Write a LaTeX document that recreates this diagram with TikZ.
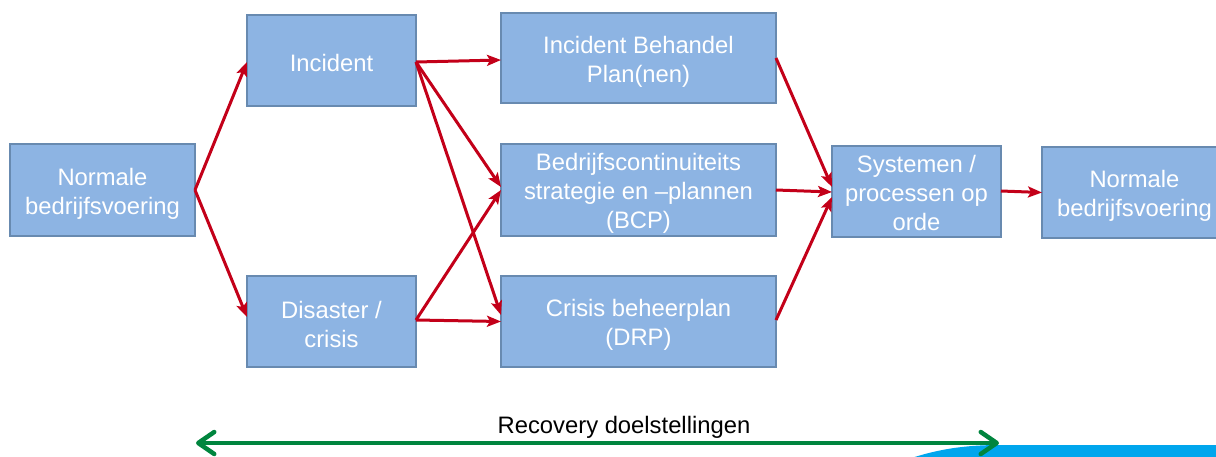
\documentclass[tikz,border=0pt]{standalone}
\usepackage{fontspec}
\setmainfont{Liberation Sans}
\usetikzlibrary{arrows.meta,calc}
\definecolor{boxfill}{RGB}{141,180,227}
\definecolor{boxline}{RGB}{104,138,176}
\definecolor{arrred}{RGB}{195,0,25}
\definecolor{arrgreen}{RGB}{0,133,62}
\definecolor{wave}{RGB}{0,166,237}
\newcommand{\toppad}{\rule{0pt}{24pt}}
\tikzset{
  blk/.style={draw=boxline, fill=boxfill, line width=2.4pt, text=white,
    align=center, inner sep=0pt, outer sep=0pt,
    font=\fontsize{23.8}{29}\selectfont},
  redarr/.style={draw=arrred, line width=3pt,
    -{Stealth[length=14pt,width=11pt,inset=3pt]}},
  greenarr/.style={draw=arrgreen, line width=4.5pt,
    {Straight Barb[length=16pt,width=22pt,round]}-{Straight Barb[length=16pt,width=22pt,round]}},
  lbl/.style={text=black, font=\fontsize{23.8}{28.5}\selectfont, inner sep=0pt}
}
\begin{document}
\begin{tikzpicture}[x=1pt,y=-1pt]
\useasboundingbox (0,0) rectangle (1216,456);
% blue shape bottom right
\fill[wave] (900,462) .. controls (935,449) and (965,445) .. (1000,445) -- (1222,445) -- (1222,462) -- cycle;

\node[blk, minimum width=185pt, minimum height=92pt] (n1) at (102.5,190) {\toppad Normale\\bedrijfsvoering};
\node[blk, minimum width=169pt, minimum height=91pt] (inc) at (331.5,60.5) {\rule{0pt}{23pt}Incident};
\node[blk, minimum width=169pt, minimum height=91pt] (dis) at (331.5,321.5) {\toppad Disaster /\\crisis};
\node[blk, minimum width=275pt, minimum height=90pt] (ibp) at (638.5,58) {\toppad Incident Behandel\\Plan(nen)};
\node[blk, minimum width=275pt, minimum height=92pt] (bcp) at (638.5,190) {\rule{0pt}{23pt}Bedrijfscontinuiteits\\strategie en –plannen\\(BCP)};
\node[blk, minimum width=275pt, minimum height=91pt] (cr) at (638.5,321.5) {\toppad Crisis beheerplan\\(DRP)};
\node[blk, minimum width=169pt, minimum height=91pt] (sys) at (916.5,191.5) {\rule{0pt}{21pt}Systemen /\\processen op\\orde};
\node[blk, minimum width=185pt, minimum height=91pt] (n2) at (1134.5,192.5) {\toppad Normale\\bedrijfsvoering};

\coordinate (incout) at ($(inc.east)+(0,1.5)$);
\coordinate (disout) at ($(dis.east)+(0,-1.5)$);
\draw[redarr] (n1.east) -- ($(inc.west)+(0,1.5)$);
\draw[redarr] (n1.east) -- ($(dis.west)+(0,-4.5)$);
\draw[redarr] (incout) -- ($(ibp.west)+(0,2)$);
\draw[redarr] (incout) -- ($(bcp.west)+(0,-3)$);
\draw[redarr] (incout) -- ($(cr.west)+(0,-6.5)$);
\draw[redarr] (disout) -- (bcp.west);
\draw[redarr] (disout) -- (cr.west);
\draw[redarr] (ibp.east) -- ($(sys.west)+(0,-4.5)$);
\draw[redarr] (bcp.east) -- ($(sys.west)+(0,0.5)$);
\draw[redarr] ($(cr.east)+(0,-1.5)$) -- ($(sys.west)+(0,5.5)$);
\draw[redarr] ($(sys.east)+(0,-0.5)$) -- (n2.west);

\coordinate (gl) at (196,443);
\coordinate (gr) at (999,443);
\draw[greenarr] (gl) -- (gr);
\node[lbl, anchor=base] (rec) at (624,433) {Recovery doelstellingen};
\end{tikzpicture}
\end{document}
